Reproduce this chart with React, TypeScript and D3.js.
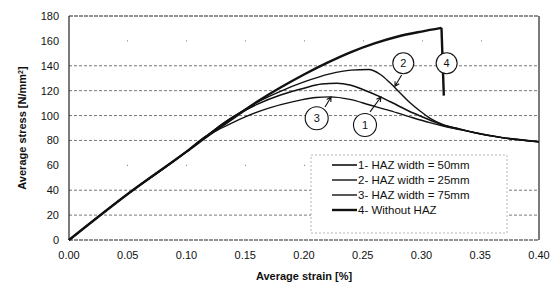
import React from "react";
import * as d3 from "d3";

// values (strain in %, stress in N/mm2)
const xTicks = [0, 0.05, 0.1, 0.15, 0.2, 0.25, 0.3, 0.35, 0.4];
const yTicks = [0, 20, 40, 60, 80, 100, 120, 140, 160, 180];

const elastic = [
  [0, 0],
  [0.05, 37],
  [0.1, 71],
];
const tail = [
  [0.345, 86.3],
  [0.367, 82.5],
  [0.4, 79],
];

const haz50 = [
  ...elastic,
  [0.115, 82],
  [0.14, 99],
  [0.16, 109],
  [0.18, 116.5],
  [0.2, 122],
  [0.215, 125.3],
  [0.228, 126],
  [0.239, 124.6],
  [0.25, 121],
  [0.265, 115],
  [0.279, 108.5],
  [0.293, 102],
  [0.307, 96.5],
  [0.321, 91.5],
  [0.333, 88.9],
  ...tail,
];
const haz25 = [
  ...elastic,
  [0.115, 82],
  [0.13, 93],
  [0.15, 105],
  [0.165, 113],
  [0.18, 119.5],
  [0.2, 127],
  [0.222, 133.5],
  [0.24, 136.5],
  [0.255, 137],
  [0.265, 133],
  [0.273, 126.5],
  [0.282, 118],
  [0.29, 110.5],
  [0.299, 103.5],
  [0.307, 98],
  [0.319, 92.5],
  [0.332, 89.3],
  ...tail,
];
const haz75 = [
  ...elastic,
  [0.114, 82],
  [0.13, 90],
  [0.15, 99],
  [0.17, 106],
  [0.19, 111],
  [0.21, 114.5],
  [0.222, 115],
  [0.239, 113],
  [0.256, 108.5],
  [0.273, 104],
  [0.29, 99],
  [0.307, 94.3],
  [0.321, 91],
  [0.333, 88.7],
  ...tail,
];
const noHaz = [
  ...elastic,
  [0.12, 85],
  [0.14, 98],
  [0.16, 111],
  [0.18, 122.5],
  [0.2, 133],
  [0.22, 142.5],
  [0.24, 151],
  [0.26, 158],
  [0.28, 163.5],
  [0.3, 167.5],
  [0.317, 170.5],
  [0.319, 116],
];

const seriesNames = [
  "1-  HAZ width = 50mm",
  "2-  HAZ width = 25mm",
  "3-  HAZ width = 75mm",
  "4-  Without HAZ",
];
const seriesData = [haz50, haz25, haz75, noHaz];

// numbered callouts: label, circle centre, arrow tail, arrow tip
const callouts = [
  { label: "2", at: [0.2845, 142], from: [0.2831, 132.6], to: [0.2774, 123.5] },
  { label: "4", at: [0.3214, 142], from: null, to: null },
  { label: "3", at: [0.2108, 97.8], from: [0.2179, 106.9], to: [0.223, 114.9] },
  { label: "1", at: [0.2519, 92.4], from: [0.2562, 102.9], to: [0.2655, 114.9] },
];

const W = 551;
const H = 289;
const margin = { top: 16, left: 69, right: 12, bottom: 49 };
const font = "'Liberation Sans', Arial, sans-serif";

export default function App() {
  const x = d3.scaleLinear().domain([0, 0.4]).range([margin.left, W - margin.right]);
  const y = d3.scaleLinear().domain([0, 180]).range([H - margin.bottom, margin.top]);
  const line = d3
    .line<number[]>()
    .x((d) => x(d[0]))
    .y((d) => y(d[1]))
    .curve(d3.curveMonotoneX);
  const widths = [1.6, 1.4, 1.4, 2.4];

  // legend placement
  const lgX = 311;
  const lgY = 155;
  const lgW = 196;
  const lgH = 78;

  return (
    <svg
      width={W}
      height={H}
      style={{ position: "absolute", left: 0, top: 0, background: "#fff" }}
      fontFamily={font}
    >
      {/* grid */}
      {yTicks
        .filter((t) => t > 0 && t < 180)
        .map((t) => (
          <line
            key={t}
            x1={x(0)}
            x2={x(0.4)}
            y1={y(t)}
            y2={y(t)}
            stroke="#555"
            strokeWidth={0.8}
            strokeDasharray={t === 60 || t === 160 ? "1,58" : "3,2"}
            strokeDashoffset={t === 60 || t === 160 ? -58 : 0}
          />
        ))}

      {/* frame */}
      <line x1={x(0)} x2={x(0.4)} y1={y(180)} y2={y(180)} stroke="#222" strokeWidth={1} strokeDasharray="4,1" />
      <line x1={x(0)} x2={x(0.4)} y1={y(0)} y2={y(0)} stroke="#222" strokeWidth={1} strokeDasharray="4,1" />
      <line x1={x(0)} x2={x(0)} y1={y(0)} y2={y(180)} stroke="#222" strokeWidth={1.2} />
      <line x1={x(0.4)} x2={x(0.4)} y1={y(0)} y2={y(180)} stroke="#222" strokeWidth={1.2} />

      {/* legend box */}
      <rect x={lgX} y={lgY} width={lgW} height={lgH} fill="#fff" stroke="#999" strokeWidth={0.7} strokeDasharray="2,2" />
      {seriesNames.map((name, i) => (
        <g key={name} transform={`translate(${lgX + 21},${lgY + 10 + i * 15})`}>
          <line x1={0} x2={25} y1={0} y2={0} stroke="#111" strokeWidth={widths[i]} />
          <text x={26} y={4} fontSize={11.5} fill="#111">
            {name}
          </text>
        </g>
      ))}

      {/* curves */}
      {seriesData.map((s, i) => (
        <path
          key={i}
          d={line(i === 3 ? s.slice(0, -1) : s) || ""}
          fill="none"
          stroke="#111"
          strokeWidth={widths[i]}
          strokeLinejoin="round"
        />
      ))}
      <line
        x1={x(noHaz[noHaz.length - 2][0])}
        y1={y(noHaz[noHaz.length - 2][1])}
        x2={x(noHaz[noHaz.length - 1][0])}
        y2={y(noHaz[noHaz.length - 1][1])}
        stroke="#111"
        strokeWidth={2.4}
      />

      {/* callouts */}
      {callouts.map((c) => {
        const cx = x(c.at[0]);
        const cy = y(c.at[1]);
        let arrow = null;
        if (c.from && c.to) {
          const x1 = x(c.from[0]);
          const y1 = y(c.from[1]);
          const x2 = x(c.to[0]);
          const y2 = y(c.to[1]);
          const a = Math.atan2(y2 - y1, x2 - x1);
          const hl = 5;
          const h1 = [x2 - hl * Math.cos(a - 0.5), y2 - hl * Math.sin(a - 0.5)];
          const h2 = [x2 - hl * Math.cos(a + 0.5), y2 - hl * Math.sin(a + 0.5)];
          arrow = (
            <path
              d={`M${x1},${y1}L${x2},${y2}M${h1[0]},${h1[1]}L${x2},${y2}L${h2[0]},${h2[1]}`}
              fill="none"
              stroke="#111"
              strokeWidth={1.1}
            />
          );
        }
        return (
          <g key={c.label}>
            <circle cx={cx} cy={cy} r={c.label === "1" || c.label === "3" ? 11.5 : 10.5} fill="#fff" stroke="#111" strokeWidth={1.1} />
            <text x={cx} y={cy + 4} textAnchor="middle" fontSize={11} fill="#111">
              {c.label}
            </text>
            {arrow}
          </g>
        );
      })}

      {/* tick labels */}
      {yTicks.map((t) => (
        <text key={t} x={x(0) - 10} y={y(t) + 4} textAnchor="end" fontSize={11} fill="#111">
          {t}
        </text>
      ))}
      {xTicks.map((t) => (
        <text key={t} x={x(t)} y={y(0) + 19} textAnchor="middle" fontSize={11} fill="#111">
          {t.toFixed(2)}
        </text>
      ))}

      {/* axis titles */}
      <text x={(x(0) + x(0.4)) / 2} y={H - 9} textAnchor="middle" fontSize={11} fontWeight="bold" fill="#111">
        Average strain [%]
      </text>
      <text
        transform={`translate(26,${(y(0) + y(180)) / 2}) rotate(-90)`}
        textAnchor="middle"
        fontSize={11}
        fontWeight="bold"
        fill="#111"
      >
        Average stress [N/mm<tspan baselineShift="super" fontSize={7}>2</tspan>]
      </text>
    </svg>
  );
}
